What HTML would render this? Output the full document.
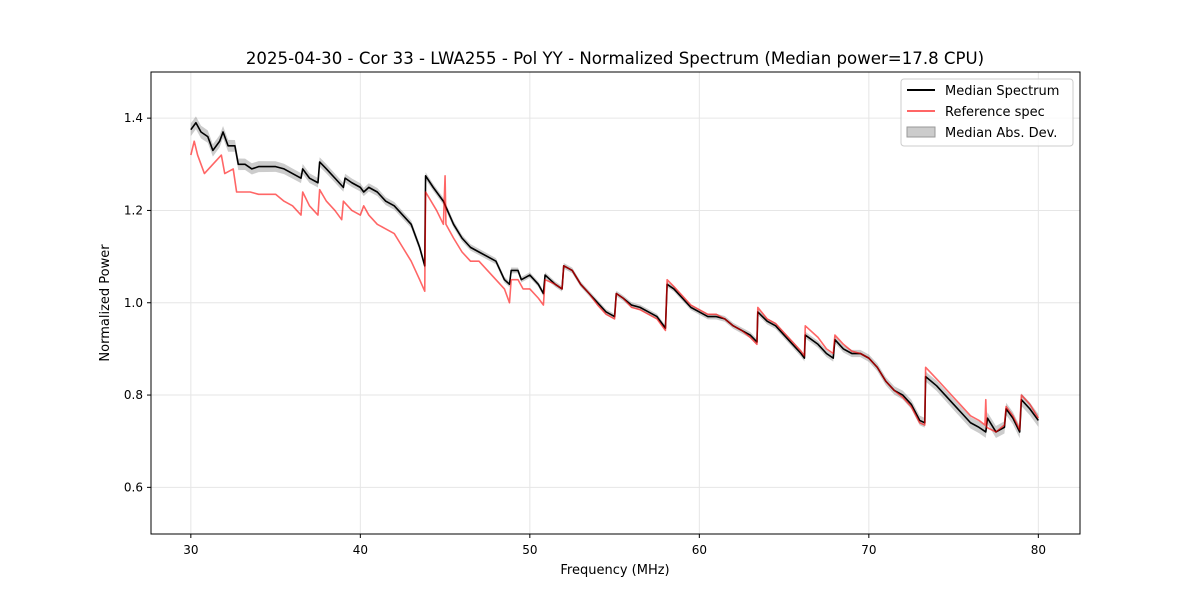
<!DOCTYPE html>
<html><head><meta charset="utf-8"><style>
body{margin:0;background:#fff;font-family:"Liberation Sans","DejaVu Sans",sans-serif}
svg text{font-family:"DejaVu Sans","Liberation Sans",sans-serif}
</style></head><body>
<svg id="chart" width="1200" height="600" xmlns="http://www.w3.org/2000/svg">
<rect width="1200" height="600" fill="#fff"/>
<g id="grid"></g>
<g id="band"></g>
<g id="lines"></g>
<rect x="151" y="72" width="929" height="462" fill="none" stroke="#000" stroke-width="1"/>
<g id="axes"></g>
<text x="615" y="64" font-size="16.6" text-anchor="middle">2025-04-30 - Cor 33 - LWA255 - Pol YY - Normalized Spectrum (Median power=17.8 CPU)</text>
<text x="615" y="574" font-size="13" text-anchor="middle">Frequency (MHz)</text>
<text transform="translate(109,303) rotate(-90)" font-size="13" text-anchor="middle">Normalized Power</text>
<g>
<rect x="901" y="79" width="172" height="67" rx="3" fill="#fff" fill-opacity="0.8" stroke="#ccc"/>
<line x1="907" y1="90" x2="935" y2="90" stroke="#000" stroke-width="2"/>
<text x="945" y="95" font-size="13">Median Spectrum</text>
<line x1="907" y1="111" x2="935" y2="111" stroke="#f66" stroke-width="2"/>
<text x="945" y="116" font-size="13">Reference spec</text>
<rect x="907" y="127" width="28" height="10" fill="#ccc" stroke="#999"/>
<text x="945" y="137" font-size="13">Median Abs. Dev.</text>
</g>
</svg>
<script>
const xTicks=[30,40,50,60,70,80];
const yTicks=[0.6,0.8,1.0,1.2,1.4];
const medFreq=[30,30.3,30.6,31,31.3,31.7,31.9,32.2,32.6,32.8,33.2,33.6,34,35,35.5,36,36.5,36.6,37,37.5,37.6,38,38.5,39,39.1,39.5,40,40.2,40.5,41,41.5,42,42.5,43,43.5,43.8,43.85,44.3,44.9,45.5,46,46.5,47,47.5,48,48.5,48.8,48.9,49.3,49.5,50,50.5,50.8,50.9,51.5,51.9,52,52.5,53,53.5,54,54.5,55,55.1,55.5,56,56.5,57,57.5,58,58.1,58.5,59,59.5,60,60.5,61,61.5,62,62.5,63,63.4,63.45,64,64.5,65,65.5,66,66.2,66.25,67,67.5,67.9,68,68.5,69,69.5,70,70.5,71,71.5,72,72.5,73,73.3,73.35,74,74.5,75,75.5,76,76.5,76.9,77,77.5,78,78.1,78.5,78.9,79,79.5,80];
const medVal=[1.375,1.39,1.37,1.36,1.33,1.35,1.37,1.34,1.34,1.30,1.30,1.29,1.295,1.295,1.29,1.28,1.27,1.29,1.27,1.26,1.305,1.29,1.27,1.25,1.27,1.26,1.25,1.24,1.25,1.24,1.22,1.21,1.19,1.17,1.12,1.08,1.275,1.25,1.22,1.17,1.14,1.12,1.11,1.10,1.09,1.05,1.04,1.07,1.07,1.05,1.06,1.04,1.02,1.06,1.04,1.03,1.08,1.07,1.04,1.02,1.0,0.98,0.97,1.02,1.01,0.995,0.99,0.98,0.97,0.945,1.04,1.03,1.01,0.99,0.98,0.97,0.97,0.965,0.95,0.94,0.93,0.915,0.98,0.96,0.95,0.93,0.91,0.89,0.88,0.93,0.91,0.89,0.88,0.92,0.90,0.89,0.89,0.88,0.86,0.83,0.81,0.80,0.78,0.745,0.74,0.84,0.82,0.80,0.78,0.76,0.74,0.73,0.72,0.75,0.72,0.73,0.77,0.75,0.72,0.79,0.77,0.745];
const refFreq=[30,30.2,30.4,30.8,31.3,31.8,32,32.5,32.7,33.5,34,35,35.5,36,36.5,36.6,37,37.5,37.6,38,38.5,38.9,39,39.5,40,40.2,40.5,41,41.5,42,42.5,43,43.5,43.8,43.85,44.5,44.9,45,45.05,45.5,46,46.5,47,47.5,48,48.5,48.8,48.9,49.3,49.6,50,50.5,50.8,50.9,51.5,51.9,52,52.5,53,53.5,54,54.5,55,55.1,55.5,56,56.5,57,57.5,58,58.1,58.5,59,59.5,60,60.5,61,61.5,62,62.5,63,63.4,63.45,64,64.5,65,65.5,66,66.2,66.25,67,67.5,67.9,68,68.5,69,69.5,70,70.5,71,71.5,72,72.5,73,73.3,73.35,74,74.5,75,75.5,76,76.5,76.85,76.9,76.95,77.5,78,78.1,78.5,78.9,79,79.5,80];
const refVal=[1.32,1.35,1.32,1.28,1.30,1.32,1.28,1.29,1.24,1.24,1.235,1.235,1.22,1.21,1.19,1.24,1.21,1.19,1.245,1.22,1.20,1.18,1.22,1.20,1.19,1.21,1.19,1.17,1.16,1.15,1.12,1.09,1.05,1.025,1.24,1.20,1.17,1.275,1.17,1.14,1.11,1.09,1.09,1.07,1.05,1.03,1.0,1.05,1.05,1.03,1.03,1.01,0.995,1.05,1.04,1.03,1.08,1.07,1.04,1.02,0.995,0.975,0.965,1.02,1.01,0.99,0.985,0.975,0.965,0.94,1.05,1.035,1.015,0.995,0.985,0.975,0.975,0.965,0.95,0.94,0.925,0.91,0.99,0.965,0.955,0.935,0.915,0.895,0.885,0.95,0.925,0.9,0.89,0.93,0.91,0.895,0.89,0.88,0.86,0.83,0.81,0.795,0.775,0.74,0.735,0.86,0.835,0.815,0.795,0.775,0.755,0.745,0.735,0.79,0.73,0.72,0.735,0.775,0.755,0.725,0.80,0.78,0.75];
const madFreq=[30,40,50,60,70,75,80];
const madVal=[0.014,0.009,0.006,0.006,0.008,0.012,0.014];
const X=f=>151+(f-27.65)*16.95;
const Y=v=>72+(1.5-v)*461.5;
const NS="http://www.w3.org/2000/svg";
function mk(t,a,p){const e=document.createElementNS(NS,t);for(const k in a)e.setAttribute(k,a[k]);p.appendChild(e);return e;}
const grid=document.getElementById('grid'),axes=document.getElementById('axes');
xTicks.forEach(t=>{const x=X(t);
const g=mk('line',{x1:x,x2:x,y1:72,y2:534,stroke:'#e6e6e6'},grid);


mk('line',{x1:x,x2:x,y1:534,y2:538,stroke:'#000'},axes);
const tx=mk('text',{x:x,y:554,'font-size':12,'text-anchor':'middle'},axes);tx.textContent=t;

});
yTicks.forEach(t=>{const y=Y(t);
const g=mk('line',{x1:151,x2:1080,y1:y,y2:y,stroke:'#e6e6e6'},grid);


mk('line',{x1:147,x2:151,y1:y,y2:y,stroke:'#000'},axes);
const tx=mk('text',{x:143,y:y+4,'font-size':12,'text-anchor':'end'},axes);tx.textContent=t.toFixed(1);

});
function mad(f){for(let i=0;i<madFreq.length-1;i++){if(f<=madFreq[i+1]){const r=(f-madFreq[i])/(madFreq[i+1]-madFreq[i]);return madVal[i]+r*(madVal[i+1]-madVal[i]);}}return madVal[madVal.length-1];}
let up=medFreq.map((f,i)=>X(f)+','+Y(medVal[i]+mad(f)));
let dn=medFreq.map((f,i)=>X(f)+','+Y(medVal[i]-mad(f))).reverse();
const band=mk('polygon',{points:up.concat(dn).join(' '),fill:'#000','fill-opacity':0.2},document.getElementById('band'));


const lines=document.getElementById('lines');
const ml=mk('polyline',{points:medFreq.map((f,i)=>X(f)+','+Y(medVal[i])).join(' '),fill:'none',stroke:'#000','stroke-width':1.6,'stroke-linejoin':'round'},lines);


const rl=mk('polyline',{points:refFreq.map((f,i)=>X(f)+','+Y(refVal[i])).join(' '),fill:'none',stroke:'#f00','stroke-opacity':0.6,'stroke-width':1.6,'stroke-linejoin':'round'},lines);


</script>
</body></html>
